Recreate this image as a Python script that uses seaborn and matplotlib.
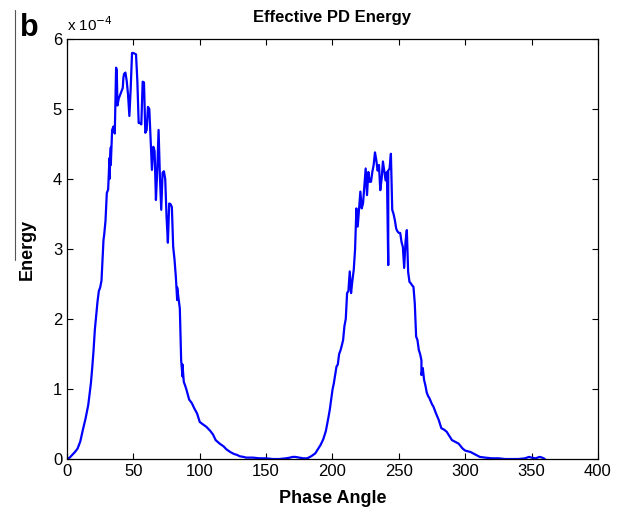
import numpy as np
import pandas as pd
from matplotlib import pyplot as plt
import seaborn as sns

# phase angle (deg) and effective PD energy (in units of 1e-4)
angle = [0, 2, 4, 6, 8, 10, 12, 14, 16, 17, 18, 19, 20, 21, 22, 23, 24, 25, 26,
         27, 27.5, 28, 29, 30, 31, 32, 32, 33, 33, 34, 35, 36, 37, 37.5, 38, 39,
         40, 41, 42, 42.5, 43, 44, 45, 46, 47, 48, 49, 50, 51, 52, 53, 54, 55,
         56, 57, 58, 59, 60, 61, 62, 63, 64, 65, 66, 67, 68, 69, 70, 71, 72, 73,
         74, 75, 76, 77, 78, 79, 80, 81, 82, 83, 83, 84, 85, 86, 87, 87, 88, 89,
         90, 92, 94, 96, 98, 100, 102, 105, 108, 110, 112, 115, 118, 120, 123,
         126, 128, 130, 133, 135, 140, 145, 150, 155, 160, 165, 168, 170, 172,
         175, 178, 181, 184, 187, 189, 191, 193, 195, 196, 197, 198, 199, 200,
         201, 202, 203, 204, 205, 206, 207, 208, 209, 210, 211, 212, 213, 214,
         215, 216, 217, 218, 219, 220, 221, 222, 223, 224, 225, 226, 227, 228,
         229, 230, 231, 232, 233, 234, 235, 236, 237, 238, 239, 240, 241, 242,
         242, 243, 244, 245, 246, 247, 248, 249, 250, 251, 252, 253, 254, 255,
         256, 257, 258, 259, 260, 261, 262, 263, 264, 265, 266, 267, 267, 268,
         269, 270, 271, 272, 273, 275, 276, 278, 280, 282, 284, 286, 288, 290,
         292, 295, 298, 300, 304, 308, 311, 315, 320, 325, 330, 340, 345, 348,
         350, 353, 356, 358, 360]
energy = [0.0, 0.02, 0.06, 0.10, 0.15, 0.25, 0.42, 0.58, 0.77, 0.92, 1.08, 1.30,
          1.55, 1.85, 2.05, 2.25, 2.40, 2.45, 2.55, 2.95, 3.13, 3.20, 3.40, 3.80,
          3.85, 4.30, 4.00, 4.45, 4.20, 4.70, 4.75, 4.65, 5.59, 5.55, 5.05, 5.15,
          5.20, 5.25, 5.30, 5.45, 5.50, 5.52, 5.40, 5.20, 4.90, 5.30, 5.80, 5.80,
          5.79, 5.78, 5.40, 4.80, 4.80, 4.78, 5.39, 5.38, 4.66, 4.70, 5.03, 5.00,
          4.56, 4.13, 4.46, 4.40, 3.70, 4.13, 4.70, 4.03, 3.56, 4.09, 4.11, 4.00,
          3.46, 3.09, 3.65, 3.64, 3.60, 3.03, 2.85, 2.60, 2.27, 2.45, 2.30, 2.15,
          1.41, 1.18, 1.35, 1.10, 1.05, 0.99, 0.85, 0.80, 0.72, 0.65, 0.53, 0.50,
          0.46, 0.40, 0.35, 0.27, 0.22, 0.18, 0.14, 0.10, 0.07, 0.06, 0.04, 0.03,
          0.02, 0.02, 0.01, 0.01, 0.0, 0.0, 0.01, 0.02, 0.03, 0.03, 0.02, 0.01,
          0.01, 0.04, 0.08, 0.14, 0.20, 0.28, 0.40, 0.50, 0.60, 0.71, 0.85, 0.99,
          1.08, 1.20, 1.32, 1.35, 1.50, 1.55, 1.62, 1.70, 1.90, 2.00, 2.37, 2.40,
          2.68, 2.37, 2.55, 2.70, 2.99, 3.58, 3.32, 3.56, 3.82, 3.58, 3.65, 3.90,
          4.15, 3.77, 4.10, 3.96, 3.96, 4.10, 4.20, 4.38, 4.27, 4.12, 4.20, 3.84,
          4.00, 4.25, 4.12, 3.98, 4.10, 2.77, 4.12, 4.15, 4.36, 3.56, 3.50, 3.41,
          3.29, 3.25, 3.23, 3.23, 3.10, 3.03, 2.73, 3.10, 3.27, 2.67, 2.53, 2.51,
          2.48, 2.46, 2.22, 1.75, 1.70, 1.56, 1.50, 1.41, 1.20, 1.30, 1.13, 1.05,
          0.95, 0.90, 0.87, 0.78, 0.75, 0.65, 0.56, 0.44, 0.42, 0.39, 0.33, 0.27,
          0.25, 0.22, 0.15, 0.12, 0.10, 0.06, 0.03, 0.02, 0.01, 0.01, 0.0, 0.0,
          0.01, 0.03, 0.02, 0.01, 0.03, 0.02, 0.0]

x_ticks = [0, 50, 100, 150, 200, 250, 300, 350, 400]
y_ticks = [0, 1, 2, 3, 4, 5, 6]

df = pd.DataFrame({'PhaseAngle': angle, 'Energy': np.array(energy) * 1e-4})

sns.set_style('ticks')
plt.rcParams['font.family'] = ['Liberation Sans Narrow', 'Liberation Sans', 'DejaVu Sans']
plt.rcParams['xtick.direction'] = 'in'
plt.rcParams['ytick.direction'] = 'in'
plt.rcParams['text.color'] = 'black'
plt.rcParams['axes.labelcolor'] = 'black'
plt.rcParams['xtick.color'] = 'black'
plt.rcParams['ytick.color'] = 'black'

fig = plt.figure(figsize=(6.29, 5.15), dpi=100)
ax = fig.add_axes([0.1065, 0.1087, 0.8442, 0.8156])

sns.lineplot(data=df, x='PhaseAngle', y='Energy', estimator=None, sort=False,
             color='#0000ff', linewidth=1.6, ax=ax)

ax.set_xlim(0, 400)
ax.set_ylim(0, 6e-4)
ax.set_xticks(x_ticks)
ax.set_yticks([v * 1e-4 for v in y_ticks])
ax.set_yticklabels([str(v) for v in y_ticks])
ax.tick_params(top=True, right=True, length=4, width=0.8, labelsize=12, color='black')
for s in ax.spines.values():
    s.set_linewidth(0.9)
    s.set_color('black')

ax.set_title('Effective PD Energy', fontsize=12, fontweight='bold',
             family=['Liberation Sans', 'DejaVu Sans'], pad=12)
ax.set_xlabel('Phase Angle', fontsize=13, fontweight='bold',
              family=['Liberation Sans', 'DejaVu Sans'], labelpad=8)
ax.set_ylabel('Energy', fontsize=13, fontweight='bold',
              family=['Liberation Sans', 'DejaVu Sans'], labelpad=12)

ax.text(0.0, 1.012, r'x 10$^{-4}$', transform=ax.transAxes, fontsize=11,
        ha='left', va='bottom')
fig.text(0.032, 0.945, 'b', fontsize=22, fontweight='bold',
         family=['Liberation Sans', 'DejaVu Sans'], ha='left', va='center')
fig.add_artist(plt.Line2D([0.024, 0.024], [0.495, 0.98], color='#555555', lw=0.8))

fig.savefig('out.png', dpi=100)
